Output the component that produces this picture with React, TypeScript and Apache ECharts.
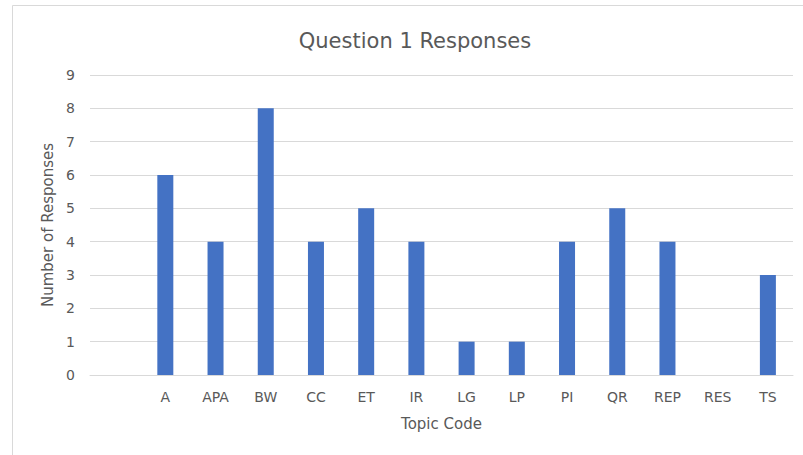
import React, { useEffect, useRef } from "react";
import * as echarts from "echarts";

const categories = ["", "A", "APA", "BW", "CC", "ET", "IR", "LG", "LP", "PI", "QR", "REP", "RES", "TS"];
const responses = [null, 6, 4, 8, 4, 5, 4, 1, 1, 4, 5, 4, null, 3];

const FONT = "'DejaVu Sans', 'Open Sans', sans-serif";
const TEXT = "#595959";

export default function App() {
  const ref = useRef<HTMLDivElement>(null);
  useEffect(() => {
    const chart = echarts.init(ref.current!, null, { renderer: "svg" });
    chart.setOption({
      animation: false,
      backgroundColor: "#ffffff",
      title: {
        text: "Question 1 Responses",
        left: 410,
        top: 25,
        textAlign: "center",
        textStyle: { fontFamily: FONT, fontSize: 21, fontWeight: "normal", color: TEXT },
      },
      graphic: [
        {
          type: "rect",
          shape: { x: 12.5, y: 5.5, width: 820, height: 470 },
          style: { fill: "none", stroke: "#d9d9d9", lineWidth: 1 },
          silent: true,
        },
      ],
      grid: { left: 90, right: 10, top: 75, bottom: 80 },
      xAxis: {
        type: "category",
        data: categories,
        name: "Topic Code",
        nameLocation: "middle",
        nameGap: 41,
        nameTextStyle: { fontFamily: FONT, fontSize: 15, color: TEXT },
        axisLine: { show: true, lineStyle: { color: "#d9d9d9" } },
        axisTick: { show: false },
        axisLabel: { fontFamily: FONT, fontSize: 14, color: TEXT, margin: 15, interval: 0 },
      },
      yAxis: {
        type: "value",
        min: 0,
        max: 9,
        interval: 1,
        name: "Number of Responses",
        nameLocation: "middle",
        nameGap: 33,
        nameTextStyle: { fontFamily: FONT, fontSize: 15, color: TEXT },
        axisLine: { show: false },
        axisTick: { show: false },
        splitLine: { lineStyle: { color: "#d9d9d9" } },
        axisLabel: { fontFamily: FONT, fontSize: 14, color: TEXT, margin: 15 },
      },
      series: [
        {
          type: "bar",
          data: responses,
          barWidth: 16,
          itemStyle: { color: "#4472C4" },
        },
      ],
    });
    return () => chart.dispose();
  }, []);
  return <div ref={ref} style={{ width: 803, height: 455, position: "absolute", left: 0, top: 0 }} />;
}
